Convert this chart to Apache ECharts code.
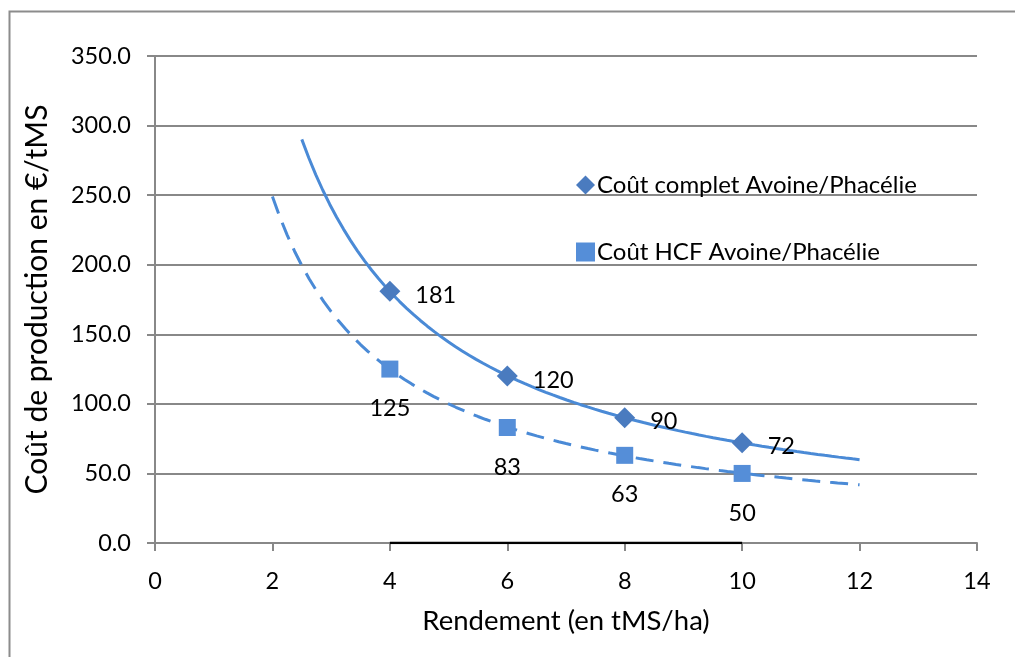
<!DOCTYPE html>
<html>
<head>
<meta charset="utf-8">
<script src="https://cdn.jsdelivr.net/npm/echarts@6/dist/echarts.min.js"></script>
<style>
  html, body { margin: 0; padding: 0; background: #fff; }
  #chart { width: 1015px; height: 657px; }
</style>
</head>
<body>
<div id="chart"></div>
<script>
// Rendement (tMS/ha)
const rendement = [4, 6, 8, 10];
// Coût de production (€/tMS)
const coutComplet = [181, 120, 90, 72];
const coutHCF = [125, 83, 63, 50];

const nomComplet = 'Coût complet Avoine/Phacélie';
const nomHCF = 'Coût HCF Avoine/Phacélie';

// Range over which each power trend curve is drawn
const trendComplet = { from: 2.5, to: 12 };
const trendHCF = { from: 2, to: 12 };

const FONT = 'Lato';

// Least-squares power fit y = a * x^b (in log-log space), sampled across a range
function powerTrend(xs, ys, range, steps) {
  const lx = xs.map(Math.log), ly = ys.map(Math.log);
  const n = xs.length;
  const mx = lx.reduce((s, v) => s + v, 0) / n;
  const my = ly.reduce((s, v) => s + v, 0) / n;
  let sxy = 0, sxx = 0;
  for (let i = 0; i < n; i++) {
    sxy += (lx[i] - mx) * (ly[i] - my);
    sxx += (lx[i] - mx) * (lx[i] - mx);
  }
  const b = sxy / sxx;
  const a = Math.exp(my - b * mx);
  const pts = [];
  for (let i = 0; i <= steps; i++) {
    const x = range.from + (range.to - range.from) * i / steps;
    pts.push([x, a * Math.pow(x, b)]);
  }
  return pts;
}

const pts = (xs, ys) => xs.map((x, i) => [x, ys[i]]);

const chart = echarts.init(document.getElementById('chart'), null, { renderer: 'canvas' });

const gridColor = '#888888';
const lineBlue = '#4a8ad6';

chart.setOption({
  animation: false,
  backgroundColor: '#fff',
  graphic: [{
    type: 'rect',
    left: 7, top: 9,
    shape: { width: 1100, height: 700 },
    style: { fill: 'none', stroke: '#8c8c8c', lineWidth: 2 },
    silent: true
  }],
  grid: { left: 155, right: 38, top: 56, bottom: 114 },
  legend: {
    orient: 'vertical',
    left: 571, top: 168,
    itemGap: 43,
    itemWidth: 19, itemHeight: 19,
    data: [
      { name: nomComplet, icon: 'diamond', itemStyle: { opacity: 1 } },
      { name: nomHCF, icon: 'rect', itemStyle: { opacity: 1 } }
    ],
    textStyle: { fontFamily: FONT, fontSize: 24, color: '#000', padding: [0, 0, 0, -3] }
  },
  xAxis: {
    type: 'value',
    min: 0, max: 14, interval: 2,
    name: 'Rendement (en tMS/ha)',
    nameLocation: 'middle',
    nameGap: 64,
    nameTextStyle: { fontFamily: FONT, fontSize: 27.5, color: '#000' },
    axisLine: { show: true, onZero: false, lineStyle: { color: gridColor, width: 2 } },
    axisTick: { show: true, length: 8, lineStyle: { color: gridColor, width: 2 } },
    axisLabel: { fontFamily: FONT, fontSize: 23.5, color: '#000', margin: 26 },
    splitLine: { show: false }
  },
  yAxis: {
    type: 'value',
    min: 0, max: 350, interval: 50,
    name: 'Coût de production en €/tMS',
    nameLocation: 'middle',
    nameGap: 103,
    nameTextStyle: { fontFamily: FONT, fontSize: 30, color: '#000' },
    axisLine: { show: true, lineStyle: { color: gridColor, width: 2 } },
    axisTick: { show: true, length: 8, lineStyle: { color: gridColor, width: 2 } },
    axisLabel: {
      fontFamily: FONT, fontSize: 23.5, color: '#000', margin: 24,
      formatter: v => v.toFixed(1)
    },
    splitLine: { show: true, lineStyle: { color: gridColor, width: 2 } }
  },
  series: [
    {
      // black segment along the base axis spanning the measured yields
      type: 'line',
      silent: true,
      symbol: 'none',
      data: [[rendement[0], 0], [rendement[rendement.length - 1], 0]],
      lineStyle: { color: '#000', width: 2.5 },
      z: 3
    },
    {
      type: 'line',
      silent: true,
      symbol: 'none',
      data: powerTrend(rendement, coutComplet, trendComplet, 80),
      lineStyle: { color: lineBlue, width: 3 },
      z: 4
    },
    {
      type: 'line',
      silent: true,
      symbol: 'none',
      data: powerTrend(rendement, coutHCF, trendHCF, 80),
      lineStyle: { color: lineBlue, width: 3, type: [18, 10] },
      z: 4
    },
    {
      name: nomComplet,
      type: 'scatter',
      symbol: 'diamond',
      symbolSize: [21, 21],
      data: pts(rendement, coutComplet),
      itemStyle: { color: '#4a7bbf', opacity: 1 },
      label: {
        show: true, position: 'right', distance: 15, offset: [0, 4],
        fontFamily: FONT, fontSize: 23.5, color: '#000',
        formatter: p => String(p.value[1])
      },
      z: 5
    },
    {
      name: nomHCF,
      type: 'scatter',
      symbol: 'rect',
      symbolSize: [17, 17],
      data: pts(rendement, coutHCF),
      itemStyle: { color: '#558ed8', opacity: 1 },
      label: {
        show: true, position: 'bottom', distance: 19,
        fontFamily: FONT, fontSize: 23.5, color: '#000',
        formatter: p => String(p.value[1])
      },
      z: 5
    }
  ]
});
</script>
</body>
</html>
